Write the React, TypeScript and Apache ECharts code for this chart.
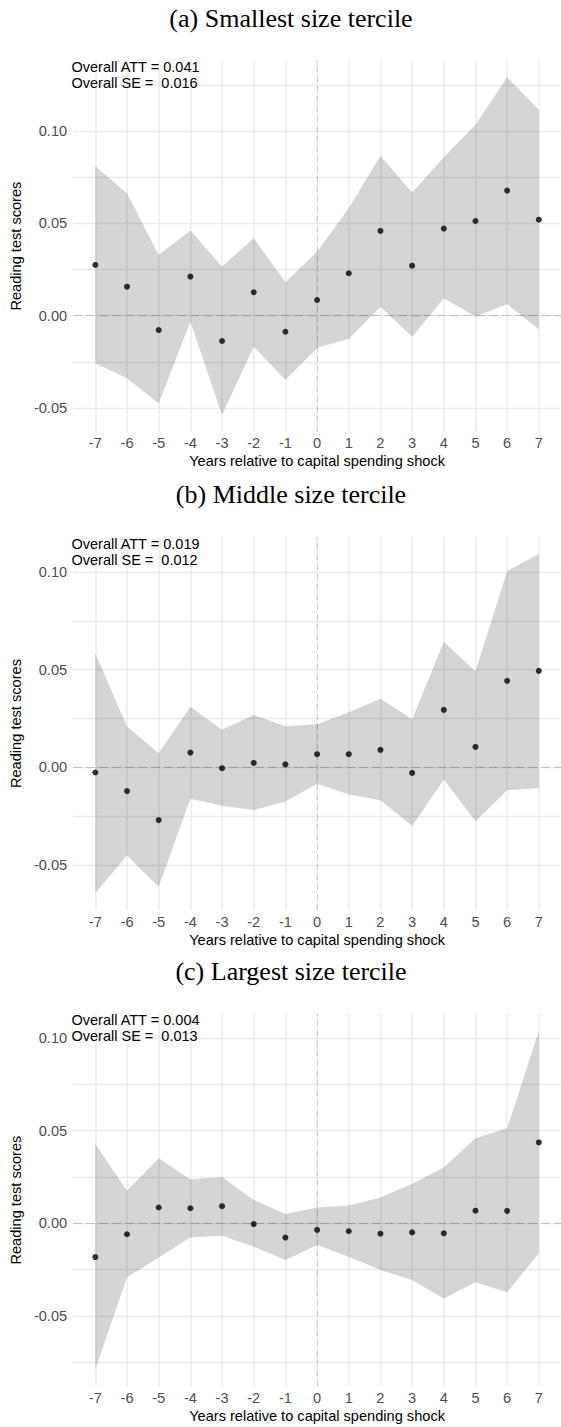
import React, { useEffect, useRef } from "react";
import * as echarts from "echarts";

// ---------- data ----------
const years = [-7, -6, -5, -4, -3, -2, -1, 0, 1, 2, 3, 4, 5, 6, 7];

const estA = [0.0275, 0.0157, -0.0078, 0.0212, -0.0137, 0.0127, -0.0087, 0.0085, 0.023, 0.0459, 0.0271, 0.0472, 0.0513, 0.0678, 0.052];
const upA = [0.0811, 0.0663, 0.0329, 0.0461, 0.0266, 0.042, 0.0181, 0.0347, 0.0582, 0.0866, 0.0667, 0.0858, 0.1034, 0.1292, 0.1115];
const loA = [-0.0258, -0.0339, -0.0475, -0.0033, -0.0538, -0.0168, -0.0349, -0.0173, -0.0126, 0.0049, -0.0114, 0.0094, -0.0005, 0.0062, -0.0074];

const estB = [-0.0027, -0.0122, -0.0271, 0.0075, -0.0005, 0.0022, 0.0015, 0.0067, 0.0067, 0.0089, -0.0029, 0.0294, 0.0104, 0.0443, 0.0494];
const upB = [0.0585, 0.0209, 0.0072, 0.031, 0.0192, 0.0268, 0.021, 0.0221, 0.0282, 0.0351, 0.0246, 0.0644, 0.0491, 0.1006, 0.1093];
const loB = [-0.0645, -0.0453, -0.0614, -0.0162, -0.0197, -0.0219, -0.0176, -0.0084, -0.014, -0.0169, -0.0301, -0.0063, -0.0277, -0.0118, -0.0106];

const estC = [-0.0182, -0.0059, 0.0085, 0.0081, 0.0092, -0.0004, -0.0077, -0.0036, -0.0043, -0.0056, -0.0049, -0.0054, 0.0068, 0.0067, 0.0436];
const upC = [0.0427, 0.0175, 0.0351, 0.0236, 0.025, 0.0126, 0.005, 0.0085, 0.0096, 0.0139, 0.0213, 0.0301, 0.0458, 0.0512, 0.1037];
const loC = [-0.0787, -0.0292, -0.0184, -0.0076, -0.0067, -0.0126, -0.0198, -0.0117, -0.018, -0.0252, -0.0306, -0.0405, -0.0318, -0.0372, -0.0162];

const panelTitles = ["(a) Smallest size tercile", "(b) Middle size tercile", "(c) Largest size tercile"];
const attValues = ["0.041", "0.019", "0.004"];
const seValues = ["0.016", "0.012", "0.013"];
const yTickLabels = [-0.05, 0, 0.05, 0.1];
const xTitle = "Years relative to capital spending shock";
const yTitle = "Reading test scores";

// ---------- layout ----------
const GRID_LEFT = 69.75;
const GRID_WIDTH = 500.25;
const gridTops = [60.3, 537.1, 1014];
const gridHeights = [371.6, 372.9, 372.2];

const SANS = "Liberation Sans";
const SERIF = "Liberation Serif";

const panels = [
  { est: estA, up: upA, lo: loA },
  { est: estB, up: upB, lo: loB },
  { est: estC, up: upC, lo: loC },
];

function yRange(up: number[], lo: number[]) {
  const hi = Math.max(...up);
  const low = Math.min(...lo);
  const pad = (hi - low) * 0.05;
  return [low - pad, hi + pad];
}

function gridValues(min: number, max: number) {
  const out: number[] = [];
  for (let k = Math.ceil(min / 0.025); k <= Math.floor(max / 0.025); k++) {
    out.push(Math.round(k * 25) / 1000);
  }
  return out;
}

function buildOption() {
  const grid: any[] = [];
  const xAxis: any[] = [];
  const yAxis: any[] = [];
  const series: any[] = [];
  const graphic: any[] = [];

  panels.forEach((p, i) => {
    const [ymin, ymax] = yRange(p.up, p.lo);
    grid.push({ left: GRID_LEFT, top: gridTops[i], width: GRID_WIDTH, height: gridHeights[i] });
    xAxis.push({
      type: "value",
      gridIndex: i,
      min: -7.7,
      max: 7.7,
      axisLine: { show: false },
      axisTick: { show: false, customValues: years },
      axisLabel: {
        customValues: years,
        color: "#4D4D4D",
        fontSize: 14.6,
        fontFamily: SANS,
        margin: 4,
        formatter: (v: number) => String(v),
      },
      splitLine: { show: true, lineStyle: { color: "#EBEBEB", width: 1.5 } },
      name: xTitle,
      nameLocation: "middle",
      nameGap: 22,
      nameTextStyle: { color: "#000", fontSize: 14.6, fontFamily: SANS },
    });
    yAxis.push({
      type: "value",
      gridIndex: i,
      min: ymin,
      max: ymax,
      axisLine: { show: false },
      axisTick: { show: false, customValues: gridValues(ymin, ymax) },
      axisLabel: {
        customValues: yTickLabels,
        color: "#4D4D4D",
        fontSize: 14.6,
        fontFamily: SANS,
        margin: 6,
        formatter: (v: number) => v.toFixed(2),
      },
      splitLine: { show: true, lineStyle: { color: "#EBEBEB", width: 1.3 } },
      name: yTitle,
      nameLocation: "middle",
      nameGap: 41,
      nameRotate: 90,
      nameTextStyle: { color: "#000", fontSize: 14.6, fontFamily: SANS },
    });

    const up = p.up;
    const lo = p.lo;
    series.push({
      type: "custom",
      xAxisIndex: i,
      yAxisIndex: i,
      silent: true,
      z: 2,
      data: years.map((x, j) => [x, lo[j], up[j]]),
      encode: { x: 0, y: [1, 2] },
      renderItem: (params: any, api: any) => {
        if (params.dataIndex !== 0) return null;
        const pts: number[][] = [];
        for (let j = 0; j < years.length; j++) pts.push(api.coord([years[j], up[j]]));
        for (let j = years.length - 1; j >= 0; j--) pts.push(api.coord([years[j], lo[j]]));
        return { type: "polygon", shape: { points: pts }, style: { fill: "rgba(0,0,0,0.165)" } };
      },
    });
    series.push({
      type: "scatter",
      xAxisIndex: i,
      yAxisIndex: i,
      silent: true,
      z: 3,
      symbolSize: 6,
      itemStyle: { color: "#000" },
      data: years.map((x, j) => [x, p.est[j]]),
      markLine: {
        silent: true,
        z: 1,
        symbol: "none",
        label: { show: false },
        data: [
          { yAxis: 0, lineStyle: { color: "#BEBEBE", width: 1.2, type: [9, 4] } },
          { xAxis: 0, lineStyle: { color: "#CACACA", width: 1, type: [6, 4] } },
        ],
      },
    });

    graphic.push({
      type: "text",
      x: 291,
      y: gridTops[i] - 42.3,
      z: 100,
      style: {
        text: panelTitles[i],
        fill: "#000",
        font: `26px "${SERIF}"`,
        textAlign: "center",
        textVerticalAlign: "middle",
      },
    });
    graphic.push({
      type: "text",
      x: 71.5,
      y: gridTops[i] - 1.6,
      z: 100,
      style: {
        text: `Overall ATT = ${attValues[i]}\nOverall SE =  ${seValues[i]}`,
        fill: "#000",
        font: `14.5px "${SANS}"`,
        lineHeight: 16,
        textAlign: "left",
        textVerticalAlign: "top",
      },
    });
  });

  return { animation: false, grid, xAxis, yAxis, series, graphic };
}

export default function App() {
  const ref = useRef<HTMLDivElement>(null);
  useEffect(() => {
    if (!ref.current) return;
    const chart = echarts.init(ref.current, undefined, { renderer: "svg" });
    chart.setOption(buildOption());
    return () => chart.dispose();
  }, []);
  return (
    <div
      ref={ref}
      style={{ position: "absolute", left: 0, top: 0, width: 561, height: 1427, background: "#fff" }}
    />
  );
}
